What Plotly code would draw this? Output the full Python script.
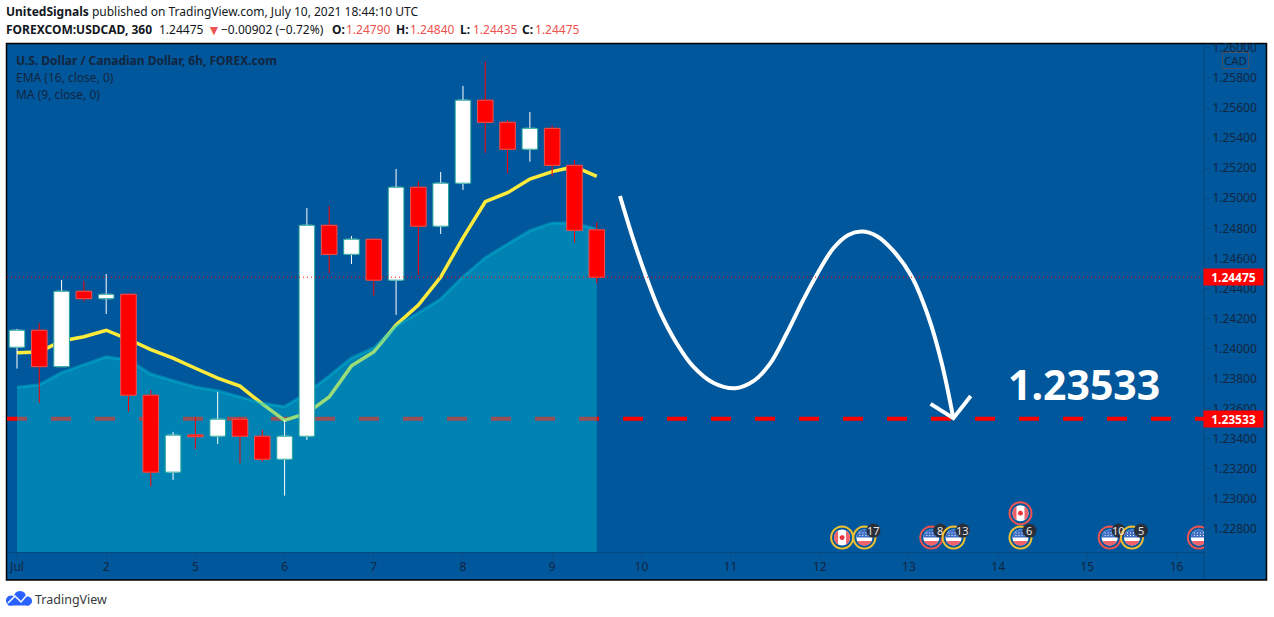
import math
import plotly.graph_objects as go

# ---- data ----
bars = list(range(27))
opens = [1.24009,1.24122,1.23880,1.24381,1.24332,1.24361,1.23690,1.23178,1.23426,1.23417,1.23530,1.23417,1.23264,1.23417,1.24820,1.24627,1.24727,1.24455,1.25073,1.24814,1.25100,1.25652,1.25505,1.25326,1.25465,1.25219,1.24790]
highs = [1.24131,1.24169,1.24457,1.24450,1.24496,1.24368,1.23725,1.23446,1.23543,1.23712,1.23541,1.23459,1.23525,1.24935,1.24949,1.24749,1.24734,1.25195,1.25113,1.25175,1.25747,1.25908,1.25521,1.25574,1.25485,1.25255,1.24840]
lows = [1.23867,1.23640,1.23880,1.24312,1.24230,1.23581,1.23082,1.23126,1.23332,1.23366,1.23237,1.23248,1.23022,1.23392,1.24501,1.24563,1.24352,1.24224,1.24490,1.24762,1.25055,1.25303,1.25166,1.25243,1.25144,1.24705,1.24435]
closes = [1.24122,1.23880,1.24381,1.24332,1.24361,1.23690,1.23178,1.23424,1.23414,1.23530,1.23417,1.23264,1.23417,1.24820,1.24627,1.24727,1.24455,1.25073,1.24814,1.25100,1.25652,1.25505,1.25326,1.25465,1.25219,1.24787,1.24475]
ema16 = [1.23973,1.23978,1.24051,1.24079,1.24122,1.24062,1.23993,1.23936,1.23869,1.23803,1.23750,1.23632,1.23523,1.23570,1.23678,1.23885,1.23978,1.24157,1.24290,1.24476,1.24736,1.24977,1.25037,1.25128,1.25177,1.25210,1.25146]
ma9 = [1.23743,1.23760,1.23840,1.23893,1.23946,1.23924,1.23831,1.23787,1.23745,1.23720,1.23680,1.23636,1.23614,1.23705,1.23818,1.23938,1.24004,1.24151,1.24237,1.24330,1.24478,1.24605,1.24696,1.24784,1.24836,1.24834,1.24794]
target_price = 1.23533
last_price = 1.24475

curve_x = [27.04,27.64,28.24,28.83,29.58,30.33,31.22,32.20,33.02,33.77,34.52,35.26,35.86,36.61,37.28,37.88,38.55,39.30,40.12,40.87,41.47,41.99]
curve_y = [1.25015,1.24725,1.24468,1.24246,1.24036,1.23880,1.23773,1.23736,1.23783,1.23900,1.24102,1.24324,1.24490,1.24667,1.24756,1.24778,1.24749,1.24650,1.24480,1.24212,1.23903,1.23537]
head_x = [40.97,41.99,42.77]
head_y = [1.23632,1.23537,1.23685]

x_tick_vals = [0,4,8,12,16,20,24,28,32,36,40,44,48,52]
x_tick_text = ["Jul","2","5","6","7","8","9","10","11","12","13","14","15","16"]
y_tick_vals = [1.228,1.230,1.232,1.234,1.236,1.238,1.240,1.242,1.244,1.246,1.248,1.250,1.252,1.254,1.256,1.258,1.260]

# (bar, price, flag, ring, badge)
events = [
    (37,1.22743,"CA","#f0c030",None),
    (38,1.22743,"US","#f0c030","17"),
    (41,1.22743,"US","#ef5350","8"),
    (42,1.22743,"US","#f0c030","13"),
    (45,1.22905,"CA","#ef5350",None),
    (45,1.22743,"US","#f0c030","6"),
    (49,1.22743,"US","#ef5350","10"),
    (50,1.22743,"US","#f0c030","5"),
    (53,1.22743,"US","#ef5350",None),
]

# ---- style / layout ----
BG = "#00579b"
AXIS_TXT = "#14263f"
FONT = "Noto Sans"
W, H = 1274, 617
L, R, T, B = 7, 1204, 44, 552
X_RANGE = [-0.448, 53.23]
Y_RANGE = [1.22647, 1.26026]

def px(x): return (x - L) / (R - L)
def py(y): return (B - y) / (B - T)

fig = go.Figure()
fig.add_trace(go.Scatter(x=X_RANGE, y=[target_price]*2, mode="lines",
                         line=dict(color="#ff0000", width=4, dash="20px,24px")))
fig.add_trace(go.Scatter(x=bars, y=ema16, mode="lines", line=dict(color="#ffeb3b", width=3.5)))
fig.add_trace(go.Scatter(x=bars, y=ma9, mode="lines", fill="tozeroy",
                         fillcolor="rgba(0,197,215,0.4)",
                         line=dict(color="rgba(0,197,215,0.4)", width=3)))
# wicks
up = [c >= o for o, c in zip(opens, closes)]
fig.add_trace(go.Candlestick(x=bars, open=opens, high=highs, low=lows, close=closes,
                             xaxis="x2", yaxis="y2", whiskerwidth=0,
                             increasing=dict(line=dict(color="#ffffff", width=1), fillcolor="#ffffff"),
                             decreasing=dict(line=dict(color="#ff0000", width=1), fillcolor="#ff0000")))
# bodies
fig.add_trace(go.Bar(x=bars, y=[abs(c - o) for o, c in zip(opens, closes)],
                     base=[min(o, c) for o, c in zip(opens, closes)], width=0.7,
                     xaxis="x3", yaxis="y3",
                     marker=dict(color=["#ffffff" if u else "#ff0000" for u in up],
                                 line=dict(color=["#26a69a" if u else "#ef5350" for u in up], width=1))))
fig.add_trace(go.Scatter(x=curve_x, y=curve_y, mode="lines", xaxis="x3", yaxis="y3",
                         line=dict(color="#ffffff", width=4, shape="spline", smoothing=1.0)))
fig.add_trace(go.Scatter(x=head_x, y=head_y, mode="lines", xaxis="x3", yaxis="y3",
                         line=dict(color="#ffffff", width=4)))

shapes = [
    dict(type="rect", xref="paper", yref="paper", layer="below",
         x0=px(6.5), x1=px(1266.5), y0=py(580), y1=py(43.5),
         fillcolor=BG, line=dict(color="#000000", width=1.5)),
    dict(type="line", xref="paper", yref="paper", x0=1, x1=1, y0=py(580), y1=py(44),
         layer="below", line=dict(color="rgba(20,48,79,0.35)", width=1)),
    dict(type="line", xref="paper", yref="y", x0=0, x1=1, y0=last_price, y1=last_price,
         line=dict(color="#ff0000", width=1, dash="1px,3px")),
]

def circ(r, a0=0.0, a1=360.0, n=28, cx=0.0, cy=0.0):
    pts = []
    for k in range(n + 1):
        t = math.radians(a0 + (a1 - a0) * k / n)
        pts.append((cx + r * math.cos(t), cy + r * math.sin(t)))
    return pts

def path(pts):
    return "M" + " L".join(f"{a:.5f},{b:.5f}" for a, b in pts) + " Z"

def pix_shape(bar, price, pts, fill, line=None, lw=0):
    return dict(type="path", xref="x", yref="y", xsizemode="pixel", ysizemode="pixel",
                xanchor=bar, yanchor=price, path=path(pts), fillcolor=fill,
                line=dict(color=line or fill, width=lw))

annos = []
def note(x, y, text, size=12, color="#131722", anchor="left", **kw):
    annos.append(dict(xref="paper", yref="paper", x=px(x), y=py(y), text=text, showarrow=False,
                      xanchor=anchor, yanchor="middle", font=dict(family=FONT, size=size, color=color),
                      borderpad=0, **kw))

RED_F, BLUE_F = "#f0626a", "#3f6fc4"
dots = " ".join(path([(a, b), (a + 1, b), (a + 1, b + 1), (a, b + 1)])
                for a in (-5, -2, 1, 4) for b in (1.5, 4))
for bar, price, flag, ring, badge in events:
    shapes.append(pix_shape(bar, price, circ(11), "rgba(0,0,0,0)", ring, 2))
    shapes.append(pix_shape(bar, price, circ(8), "#ffffff"))
    if flag == "CA":
        shapes.append(pix_shape(bar, price, circ(8, 120, 240, 12), RED_F))
        shapes.append(pix_shape(bar, price, circ(8, -60, 60, 12), RED_F))
        shapes.append(pix_shape(bar, price, circ(2.5, n=10), "#e8333c"))
    else:
        shapes.append(pix_shape(bar, price, circ(8, 0, 180, 16), BLUE_F))
        shapes.append(pix_shape(bar, price, circ(8, 205, 335, 12), RED_F))
        s = pix_shape(bar, price, [], "#ffffff")
        s["path"] = dots
        shapes.append(s)
    if badge:
        shapes.append(pix_shape(bar, price, circ(7, cx=9, cy=7, n=20), "#2a2e39"))
        annos.append(dict(xref="x", yref="y", x=bar, y=price, xshift=9, yshift=7, text=badge,
                          showarrow=False, font=dict(family=FONT, size=11, color="#e6e6e6")))

# price tags
for price in (last_price, target_price):
    annos.append(dict(xref="paper", yref="y", x=px(1203), y=price, text=f"<b>{price:.5f}</b>",
                      showarrow=False, xanchor="left", yanchor="middle", width=59, height=16,
                      bgcolor="#ff0000", align="center", borderpad=0,
                      font=dict(family=FONT, size=12, color="#ffffff")))

# headers
RED_TXT = "#ef5350"
note(5, 12, "<b>UnitedSignals</b> published on TradingView.com, July 10, 2021 18:44:10 UTC")
note(5, 29.5, "<b>FOREXCOM:USDCAD, 360</b>")
note(158, 29.5, "1.24475")
note(206, 29.5, "▼", size=14, color=RED_TXT)
note(220, 29.5, "−0.00902 (−0.72%)")
for x_lab, lab, x_val, val in [(331, "O:", 345, "1.24790"), (395, "H:", 409, "1.24840"),
                               (459, "L:", 472, "1.24435"), (521, "C:", 534, "1.24475")]:
    note(x_lab, 29.5, f"<b>{lab}</b>")
    note(x_val, 29.5, val, color=RED_TXT)
note(15, 60.5, "<b>U.S. Dollar / Canadian Dollar, 6h, FOREX.com</b>", color=AXIS_TXT)
note(15, 77.5, "EMA (16, close, 0)", color=AXIS_TXT)
note(15, 94.5, "MA (9, close, 0)", color=AXIS_TXT)
annos.append(dict(xref="paper", yref="paper", x=px(1235), y=py(60), text="CAD", showarrow=False,
                  xanchor="center", yanchor="middle", width=25, height=15, bgcolor=BG,
                  bordercolor="#4a4f60", borderwidth=1, borderpad=0,
                  font=dict(family=FONT, size=11.5, color=AXIS_TXT)))
note(1083.5, 384, "<b>1.23533</b>", size=41, color="#ffffff", anchor="center")
note(34, 599, "TradingView", size=12.5, color="#3a3a3a")

# logo
LOGO = "#2962ff"
def paper_pts(pts): return [(px(a), py(b)) for a, b in pts]
for cx, cy, r in [(11, 600.5, 5), (20, 597, 6), (27.5, 601, 4.5)]:
    shapes.append(dict(type="path", xref="paper", yref="paper",
                       path=path(paper_pts(circ(r, cx=cx, cy=cy))), fillcolor=LOGO, line=dict(width=0)))
shapes.append(dict(type="path", xref="paper", yref="paper",
                   path=path(paper_pts([(8, 600), (29, 600), (29, 605.5), (8, 605.5)])),
                   fillcolor=LOGO, line=dict(width=0)))
zig = paper_pts([(8,603),(15,596),(21,602),(27,595)])
shapes.append(dict(type="path", xref="paper", yref="paper",
                   path="M" + " L".join(f"{a:.5f},{b:.5f}" for a, b in zig),
                   line=dict(color="#ffffff", width=1.5)))
# tag ticks
for price in (last_price, target_price):
    shapes.append(dict(type="line", xref="paper", yref="y", x0=px(1204), x1=px(1208), y0=price, y1=price,
                       line=dict(color="#ffffff", width=1)))

hidden = dict(range=X_RANGE, overlaying="x", visible=False, rangeslider=dict(visible=False))
fig.update_layout(
    width=W, height=H, margin=dict(l=L, r=W-R, t=T, b=H-B), autosize=False,
    paper_bgcolor="#ffffff", plot_bgcolor=BG, showlegend=False, hovermode=False,
    font=dict(family=FONT, size=12, color=AXIS_TXT),
    xaxis=dict(range=X_RANGE, rangeslider=dict(visible=False), tickmode="array",
               tickvals=x_tick_vals, ticktext=x_tick_text, showgrid=False, zeroline=False,
               ticks="outside", ticklen=4, tickcolor="rgba(20,48,79,0.35)", showline=True,
               linecolor="rgba(20,48,79,0.35)", linewidth=1, tickfont=dict(size=12, color=AXIS_TXT)),
    yaxis=dict(range=Y_RANGE, side="right", tickmode="array", tickvals=y_tick_vals,
               tickformat=".5f", showgrid=False, zeroline=False, ticks="outside", ticklen=5,
               tickcolor="rgba(20,48,79,0.35)", tickfont=dict(size=12, color=AXIS_TXT)),
    xaxis2=hidden,
    yaxis2=dict(range=Y_RANGE, overlaying="y", visible=False),
    xaxis3=hidden,
    yaxis3=dict(range=Y_RANGE, overlaying="y", visible=False),
    shapes=shapes, annotations=annos,
)
fig.write_html("out.html", config=dict(displayModeBar=False),
               post_script="document.body.style.margin='0';document.body.style.overflow='hidden';")
